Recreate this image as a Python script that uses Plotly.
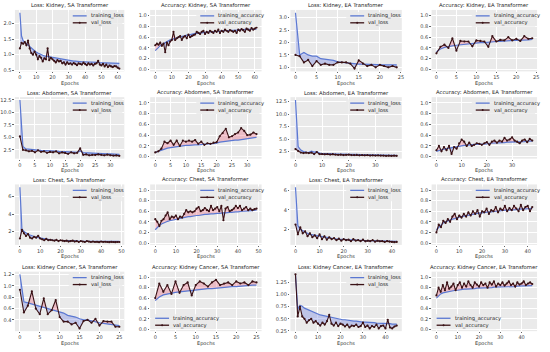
import plotly.graph_objects as go
from plotly.subplots import make_subplots

# ---------------- data ----------------
kidney_sa_loss_train = [2.35,1.6,1.45,1.4,1.35,1.32,1.25,1.2,1.15,1.1,1.08,1.05,1.02,1.0,0.98,0.96,0.95,0.93,0.92,0.91,0.9,0.89,0.88,0.87,0.86,0.85,0.84,0.83,0.82,0.82,0.81,0.8,0.8,0.79,0.79,0.78,0.78,0.78,0.77,0.77,0.77,0.76,0.76,0.76,0.76,0.75,0.75,0.75,0.75,0.74,0.74,0.74,0.74,0.73,0.73,0.73,0.73,0.72,0.72,0.72,0.72,0.72]
kidney_sa_loss_val = [1.2,1.38,1.35,1.4,1.3,1.45,1.2,1.05,1.0,1.1,1.0,0.85,0.95,0.9,0.78,0.88,0.85,1.2,0.82,0.9,0.85,0.8,0.75,0.82,0.78,0.8,0.72,0.75,0.68,0.75,0.7,0.72,0.68,0.73,0.7,0.66,0.72,0.7,0.68,0.74,0.7,0.66,0.72,0.68,0.7,0.65,0.7,0.72,0.8,0.68,0.65,0.7,0.62,0.68,0.6,0.65,0.62,0.6,0.63,0.62,0.58,0.55]
kidney_sa_acc_train = [0.35,0.38,0.42,0.45,0.47,0.48,0.5,0.51,0.53,0.55,0.56,0.57,0.58,0.59,0.6,0.61,0.62,0.62,0.63,0.64,0.64,0.65,0.66,0.66,0.67,0.67,0.68,0.68,0.68,0.69,0.69,0.69,0.7,0.7,0.7,0.7,0.71,0.71,0.71,0.71,0.72,0.72,0.72,0.72,0.72,0.73,0.73,0.73,0.73,0.73,0.73,0.74,0.74,0.74,0.74,0.74,0.74,0.75,0.75,0.75,0.75,0.75]
kidney_sa_acc_val = [0.45,0.48,0.46,0.5,0.44,0.48,0.32,0.5,0.45,0.52,0.55,0.7,0.55,0.58,0.6,0.62,0.55,0.6,0.62,0.58,0.65,0.6,0.62,0.64,0.65,0.7,0.68,0.66,0.7,0.72,0.66,0.7,0.68,0.72,0.7,0.68,0.72,0.7,0.74,0.68,0.72,0.7,0.74,0.72,0.7,0.73,0.72,0.7,0.72,0.68,0.74,0.72,0.75,0.73,0.7,0.76,0.74,0.72,0.77,0.74,0.76,0.78]
kidney_ea_loss_train = [3.2,1.5,1.6,1.5,1.45,1.45,1.35,1.33,1.3,1.28,1.22,1.2,1.2,1.15,1.15,1.13,1.13,1.12,1.12,1.11,1.11,1.1,1.1,1.1,1.1]
kidney_ea_loss_val = [1.5,1.45,1.2,1.3,1.05,1.25,1.1,1.15,1.1,1.1,1.2,1.2,1.2,1.15,0.95,1.28,1.15,1.05,1.1,1.0,1.1,1.05,1.0,1.05,1.0]
kidney_ea_acc_train = [0.33,0.38,0.41,0.43,0.44,0.45,0.46,0.47,0.48,0.48,0.49,0.5,0.5,0.51,0.51,0.52,0.52,0.53,0.53,0.54,0.54,0.54,0.55,0.55,0.56]
kidney_ea_acc_val = [0.3,0.42,0.46,0.4,0.58,0.35,0.53,0.52,0.52,0.43,0.54,0.53,0.52,0.42,0.62,0.52,0.55,0.54,0.6,0.54,0.57,0.53,0.62,0.57,0.58]
abdomen_sa_loss_train = [12.5,3.2,2.7,2.6,2.5,2.5,2.45,2.4,2.4,2.35,2.3,2.3,2.25,2.2,2.2,2.15,2.1,2.1,2.05,2.0,2.3,1.95,1.9,1.85,1.85,1.8,1.8,1.75,1.75,1.7,1.7,1.65,1.65,1.6]
abdomen_sa_loss_val = [5.2,2.5,2.4,2.2,2.3,2.0,2.4,2.1,2.2,1.9,2.1,2.0,2.2,1.8,2.0,1.9,1.7,2.0,1.8,1.9,2.8,1.5,1.6,1.4,1.5,1.45,1.6,1.5,1.4,1.55,1.4,1.35,1.4,1.3]
abdomen_sa_acc_train = [0.08,0.1,0.13,0.15,0.16,0.17,0.18,0.19,0.19,0.2,0.21,0.21,0.22,0.22,0.22,0.23,0.23,0.24,0.24,0.24,0.25,0.27,0.28,0.29,0.3,0.3,0.31,0.31,0.32,0.33,0.33,0.34,0.35,0.36]
abdomen_sa_acc_val = [0.08,0.1,0.15,0.28,0.25,0.3,0.22,0.3,0.2,0.3,0.28,0.3,0.28,0.31,0.24,0.28,0.22,0.25,0.24,0.26,0.27,0.38,0.44,0.52,0.36,0.38,0.42,0.45,0.53,0.48,0.4,0.41,0.45,0.42]
abdomen_ea_loss_train = [12.8,3.5,2.8,2.5,2.4,2.35,2.6,2.4,2.5,2.2,2.15,2.1,2.1,2.05,2.05,2.0,2.0,2.0,1.95,1.95,2.0,1.95,1.95,1.9,1.9,1.9,1.9,1.85,1.85,1.85,1.85,1.8,1.8,1.8,1.8,1.8,1.75,1.75,1.75]
abdomen_ea_loss_val = [3.0,2.6,2.3,2.2,2.3,2.2,2.3,2.0,2.4,2.0,2.0,1.95,2.0,1.9,2.0,1.9,1.85,1.9,1.8,1.85,1.9,1.8,1.8,1.85,1.75,1.8,1.75,1.8,1.7,1.75,1.7,1.75,1.7,1.7,1.65,1.7,1.65,1.7,1.65]
abdomen_ea_acc_train = [0.1,0.12,0.13,0.14,0.15,0.16,0.17,0.18,0.19,0.2,0.2,0.21,0.21,0.22,0.22,0.23,0.23,0.23,0.24,0.24,0.24,0.25,0.25,0.25,0.26,0.26,0.26,0.26,0.27,0.27,0.27,0.27,0.28,0.28,0.28,0.28,0.29,0.29,0.29]
abdomen_ea_acc_val = [0.12,0.2,0.1,0.18,0.12,0.2,0.05,0.18,0.15,0.25,0.32,0.28,0.2,0.26,0.2,0.22,0.25,0.24,0.22,0.25,0.27,0.22,0.28,0.3,0.26,0.3,0.28,0.35,0.3,0.32,0.36,0.3,0.28,0.25,0.3,0.32,0.27,0.33,0.3]
chest_sa_loss_train = [7.1,2.3,2.0,1.8,1.7,1.6,1.5,1.4,1.35,1.3,1.25,1.2,1.15,1.1,1.08,1.05,1.03,1.0,1.0,0.98,0.97,0.96,0.95,0.95,0.94,0.93,0.93,0.92,0.92,0.91,0.91,0.9,0.9,0.9,0.89,0.89,0.89,0.88,0.88,0.88,0.88,0.87,0.87,0.87,0.87,0.86,0.86,0.86,0.86,0.86]
chest_sa_loss_val = [1.2,2.2,1.8,1.5,1.7,1.3,1.2,1.4,1.3,1.5,1.2,1.1,1.0,1.15,1.0,1.05,1.0,0.95,1.05,0.9,1.0,0.95,0.9,0.95,0.85,0.9,0.95,0.85,0.9,0.8,0.9,0.85,0.8,0.9,0.85,0.8,0.85,0.8,0.82,0.78,0.85,0.8,0.82,0.8,0.78,0.82,0.8,0.78,0.8,0.8]
chest_sa_acc_train = [0.25,0.3,0.33,0.36,0.38,0.4,0.41,0.42,0.43,0.44,0.45,0.46,0.47,0.48,0.48,0.49,0.5,0.5,0.51,0.51,0.52,0.52,0.53,0.53,0.54,0.54,0.55,0.55,0.55,0.56,0.56,0.56,0.57,0.57,0.57,0.58,0.58,0.58,0.59,0.59,0.59,0.6,0.6,0.6,0.6,0.61,0.61,0.61,0.62,0.62]
chest_sa_acc_val = [0.45,0.4,0.32,0.42,0.45,0.52,0.58,0.45,0.5,0.48,0.52,0.45,0.5,0.48,0.55,0.62,0.58,0.6,0.58,0.6,0.65,0.68,0.6,0.62,0.66,0.62,0.6,0.7,0.62,0.65,0.68,0.6,0.7,0.43,0.65,0.68,0.6,0.62,0.65,0.7,0.66,0.7,0.62,0.65,0.68,0.62,0.65,0.62,0.64,0.65]
chest_ea_loss_train = [6.3,2.4,2.0,1.85,1.7,1.6,1.5,1.45,1.4,1.35,1.3,1.25,1.2,1.15,1.1,1.08,1.05,1.02,1.0,0.98,0.96,0.95,0.93,0.92,0.9,0.9,0.88,0.87,0.86,0.85,0.85,0.84,0.83,0.82,0.82,0.81,0.8,0.8,0.79,0.79,0.78,0.78,0.77]
chest_ea_loss_val = [2.5,1.5,2.2,1.6,1.8,1.3,1.6,1.2,1.4,1.1,1.5,1.0,1.3,0.95,1.2,1.0,1.1,0.9,1.05,0.85,1.0,0.9,0.95,0.8,1.0,0.85,0.9,0.8,0.95,0.78,0.85,0.8,0.9,0.75,0.85,0.78,0.8,0.72,0.8,0.75,0.72,0.7,0.72]
chest_ea_acc_train = [0.25,0.3,0.35,0.38,0.4,0.42,0.44,0.45,0.46,0.48,0.49,0.5,0.51,0.52,0.53,0.54,0.55,0.55,0.56,0.57,0.57,0.58,0.58,0.59,0.59,0.6,0.6,0.6,0.61,0.61,0.62,0.62,0.62,0.63,0.63,0.63,0.64,0.64,0.64,0.65,0.65,0.65,0.66]
chest_ea_acc_val = [0.2,0.35,0.3,0.42,0.38,0.45,0.4,0.5,0.55,0.45,0.52,0.48,0.55,0.5,0.58,0.52,0.6,0.55,0.62,0.5,0.6,0.58,0.65,0.55,0.62,0.6,0.68,0.58,0.65,0.62,0.7,0.6,0.66,0.62,0.7,0.65,0.6,0.72,0.62,0.68,0.7,0.6,0.68]
kc_sa_loss_train = [1.2,0.72,0.7,0.68,0.66,0.65,0.62,0.6,0.58,0.57,0.55,0.52,0.48,0.47,0.45,0.42,0.4,0.4,0.38,0.36,0.35,0.34,0.33,0.32,0.3,0.3]
kc_sa_loss_val = [0.93,0.53,0.65,0.9,0.6,0.5,0.78,0.5,0.57,0.75,0.45,0.37,0.37,0.32,0.35,0.25,0.38,0.4,0.35,0.42,0.3,0.38,0.37,0.37,0.28,0.28]
kc_sa_acc_train = [0.55,0.62,0.66,0.68,0.7,0.71,0.72,0.73,0.74,0.75,0.76,0.76,0.77,0.78,0.78,0.79,0.8,0.8,0.81,0.82,0.82,0.83,0.83,0.84,0.85,0.85]
kc_sa_acc_val = [0.6,0.88,0.72,0.85,0.68,0.92,0.7,0.85,0.9,0.65,0.85,0.92,0.88,0.82,0.9,0.95,0.85,0.88,0.9,0.85,0.92,0.88,0.9,0.85,0.92,0.9]
kc_ea_loss_train = [1.42,0.7,0.78,0.76,0.72,0.7,0.67,0.65,0.63,0.61,0.6,0.58,0.57,0.56,0.55,0.54,0.52,0.51,0.5,0.5,0.49,0.48,0.48,0.47,0.46,0.46,0.45,0.45,0.44,0.44,0.43,0.43,0.43,0.42,0.42,0.42,0.41,0.41,0.41,0.4,0.4,0.4,0.4,0.39,0.39,0.39]
kc_ea_loss_val = [1.42,0.55,0.75,0.55,0.5,0.42,0.47,0.5,0.42,0.45,0.4,0.36,0.42,0.38,0.45,0.58,0.4,0.36,0.42,0.35,0.4,0.38,0.34,0.38,0.32,0.36,0.35,0.38,0.33,0.35,0.42,0.33,0.36,0.3,0.35,0.33,0.38,0.3,0.35,0.36,0.3,0.48,0.32,0.3,0.34,0.36]
kc_ea_acc_train = [0.6,0.65,0.68,0.7,0.71,0.72,0.73,0.74,0.74,0.75,0.75,0.76,0.76,0.77,0.77,0.77,0.78,0.78,0.78,0.79,0.79,0.79,0.8,0.8,0.8,0.8,0.8,0.81,0.81,0.81,0.81,0.81,0.82,0.82,0.82,0.82,0.82,0.82,0.83,0.83,0.83,0.83,0.83,0.83,0.84,0.84]
kc_ea_acc_val = [0.65,0.8,0.72,0.85,0.75,0.9,0.78,0.82,0.88,0.75,0.85,0.9,0.8,0.88,0.82,0.92,0.85,0.8,0.9,0.86,0.82,0.9,0.85,0.88,0.8,0.9,0.86,0.92,0.82,0.88,0.85,0.9,0.84,0.88,0.92,0.85,0.88,0.82,0.9,0.86,0.88,0.92,0.85,0.88,0.9,0.87]

titles = [
    "Loss: Kidney, SA Transformer", "Accuracy: Kidney, SA Transformer",
    "Loss: Kidney, EA Transfomer", "Accuracy: Kidney, EA Transformer",
    "Loss: Abdomen, SA Transformer", "Accuracy: Abdomen, SA Transformer",
    "Loss: Abdomen, EA Transformer", "Accuracy: Abdomen, EA Transformer",
    "Loss: Chest, SA Transfomer", "Accuracy: Chest, SA Transformer",
    "Loss: Chest, EA Transformer", "Accuracy: Chest, EA Transformer",
    "Loss: Kidney Cancer, SA Transfomer", "Accuracy: Kidney Cancer, SA Transfomer",
    "Loss: Kidney Cancer, EA Transfomer", "Accuracy: Kidney Cancer, EA Transfomer",
]
series = [
    (kidney_sa_loss_train, kidney_sa_loss_val), (kidney_sa_acc_train, kidney_sa_acc_val),
    (kidney_ea_loss_train, kidney_ea_loss_val), (kidney_ea_acc_train, kidney_ea_acc_val),
    (abdomen_sa_loss_train, abdomen_sa_loss_val), (abdomen_sa_acc_train, abdomen_sa_acc_val),
    (abdomen_ea_loss_train, abdomen_ea_loss_val), (abdomen_ea_acc_train, abdomen_ea_acc_val),
    (chest_sa_loss_train, chest_sa_loss_val), (chest_sa_acc_train, chest_sa_acc_val),
    (chest_ea_loss_train, chest_ea_loss_val), (chest_ea_acc_train, chest_ea_acc_val),
    (kc_sa_loss_train, kc_sa_loss_val), (kc_sa_acc_train, kc_sa_acc_val),
    (kc_ea_loss_train, kc_ea_loss_val), (kc_ea_acc_train, kc_ea_acc_val),
]
x_dtick = [10, 10, 5, 5, 5, 5, 10, 10, 10, 10, 10, 10, 5, 5, 10, 10]
y_dtick = [0.5, 0.2, 0.5, 0.2, 2.5, 0.2, 2.5, 0.2, 2, 0.2, 2, 0.2, 0.2, 0.2, 0.25, 0.2]
y_fmt = [".1f", ".1f", ".1f", ".1f", ".1f", ".1f", ".1f", ".1f", "d", ".1f", "d", ".1f", ".1f", ".1f", ".2f", ".1f"]
legend_bottom = [False] * 13 + [True, False, True]

# ---------------- layout geometry (px) ----------------
W, H = 550, 352
COLS = [(14, 124), (150, 262), (291, 403), (433, 539)]
ROWS = [(9, 71), (97, 159), (185, 246), (273, 333)]
BG = "#EAEAEA"
TRAIN_C = "#5b78d2"
VAL_C = "#3a1216"
BLUE_F = "rgba(95,115,225,0.32)"
RED_F = "rgba(235,70,100,0.28)"
FONT = "DejaVu Sans"

def px(x):
    return x / W

def py(y):
    return 1 - y / H

def with_crossings(x, a, b):
    xs, aa, bb = [x[0]], [a[0]], [b[0]]
    for i in range(1, len(x)):
        d0 = a[i - 1] - b[i - 1]
        d1 = a[i] - b[i]
        if d0 * d1 < 0:
            t = d0 / (d0 - d1)
            xc = x[i - 1] + t * (x[i] - x[i - 1])
            yc = a[i - 1] + t * (a[i] - a[i - 1])
            xs.append(xc); aa.append(yc); bb.append(yc)
        xs.append(x[i]); aa.append(a[i]); bb.append(b[i])
    return xs, aa, bb

fig = make_subplots(rows=4, cols=4)
annotations = []
shapes = []

for k in range(16):
    r, c = divmod(k, 4)
    train, val = series[k]
    is_acc = titles[k].startswith("Accuracy")
    n = len(train)
    ep = list(range(n))
    xs, tt, vv = with_crossings(ep, train, val)
    mm = [min(a, b) for a, b in zip(tt, vv)]
    kw = dict(row=r + 1, col=c + 1)
    fig.add_trace(go.Scatter(x=xs, y=mm, mode="lines", line=dict(width=0), showlegend=False, hoverinfo="skip"), **kw)
    fig.add_trace(go.Scatter(x=xs, y=tt, mode="lines", line=dict(width=0), fill="tonexty", fillcolor=BLUE_F, showlegend=False, hoverinfo="skip"), **kw)
    fig.add_trace(go.Scatter(x=xs, y=mm, mode="lines", line=dict(width=0), showlegend=False, hoverinfo="skip"), **kw)
    fig.add_trace(go.Scatter(x=xs, y=vv, mode="lines", line=dict(width=0), fill="tonexty", fillcolor=RED_F, showlegend=False, hoverinfo="skip"), **kw)
    fig.add_trace(go.Scatter(x=ep, y=train, mode="lines", line=dict(color=TRAIN_C, width=1.2), showlegend=False), **kw)
    fig.add_trace(go.Scatter(x=ep, y=val, mode="lines+markers", line=dict(color=VAL_C, width=1.1),
                             marker=dict(size=2.2, color=VAL_C), showlegend=False), **kw)

    x0, x1 = COLS[c]
    y0, y1 = ROWS[r]
    xr = [-0.05 * (n - 1), 1.05 * (n - 1)]
    if is_acc:
        yr = [-0.036, 1.107]
    else:
        lo = min(min(train), min(val)); hi = max(max(train), max(val))
        pad = 0.05 * (hi - lo)
        yr = [lo - pad, hi + pad]
    axn = "" if k == 0 else str(k + 1)
    fig.layout["xaxis" + axn].update(domain=[px(x0), px(x1)], range=xr, dtick=x_dtick[k], tick0=0)
    fig.layout["yaxis" + axn].update(domain=[py(y1), py(y0)], range=yr, dtick=y_dtick[k], tick0=0, tickformat=y_fmt[k])

    cx = (x0 + x1) / 2
    annotations.append(dict(text=titles[k], x=px(cx), y=py(y0 - 4.5), xref="paper", yref="paper",
                            showarrow=False, xanchor="center", yanchor="middle",
                            font=dict(size=5.3, color="#222", family=FONT)))
    annotations.append(dict(text="Epochs", x=px(cx), y=py(y1 + 12), xref="paper", yref="paper",
                            showarrow=False, xanchor="center", yanchor="middle",
                            font=dict(size=5, color="#333", family=FONT)))

    # legend drawn as annotations/shapes
    lab_t = "training_accuracy" if is_acc else "training_loss"
    lab_v = "val_accuracy" if is_acc else "val_loss"
    tw = len(lab_t) * 2.45
    if legend_bottom[k]:
        tx = x0 + 21
        ly = [y1 - 13, y1 - 6]
    else:
        tx = x1 - 4 - tw
        ly = [y0 + 6, y0 + 13]
    shapes.append(dict(type="rect", xref="paper", yref="paper", x0=px(tx - 20), x1=px(tx + tw + 2),
                       y0=py(ly[1] + 4), y1=py(ly[0] - 4), fillcolor=BG, opacity=0.8, line=dict(width=0)))
    for lab, yy, col in ((lab_t, ly[0], TRAIN_C), (lab_v, ly[1], VAL_C)):
        shapes.append(dict(type="line", xref="paper", yref="paper", x0=px(tx - 16), x1=px(tx - 2),
                           y0=py(yy), y1=py(yy), line=dict(color=col, width=1.3)))
        annotations.append(dict(text=lab, x=px(tx), y=py(yy), xref="paper", yref="paper",
                                showarrow=False, xanchor="left", yanchor="middle",
                                font=dict(size=5.2, color="#222", family=FONT)))
    shapes.append(dict(type="circle", xref="paper", yref="paper", x0=px(tx - 10), x1=px(tx - 8),
                       y0=py(ly[1] + 1), y1=py(ly[1] - 1), fillcolor=VAL_C, line=dict(width=0)))

fig.update_xaxes(showgrid=True, gridcolor="white", gridwidth=0.6, zeroline=False, showline=False,
                 ticks="outside", ticklen=1, tickwidth=0.6, tickcolor="#666",
                 tickfont=dict(size=5, color="#444", family=FONT))
fig.update_yaxes(showgrid=True, gridcolor="white", gridwidth=0.6, zeroline=False, showline=False,
                 ticks="outside", ticklen=1.5, tickwidth=0.6, tickcolor="#666",
                 tickfont=dict(size=5, color="#444", family=FONT))
fig.update_layout(width=W, height=H, margin=dict(l=0, r=0, t=0, b=0),
                  paper_bgcolor="white", plot_bgcolor=BG, showlegend=False,
                  annotations=annotations, shapes=shapes, font=dict(family=FONT))
fig.write_html("out.html", config={"displayModeBar": False},
               post_script="document.body.style.margin='0px';document.body.style.overflow='hidden';")
